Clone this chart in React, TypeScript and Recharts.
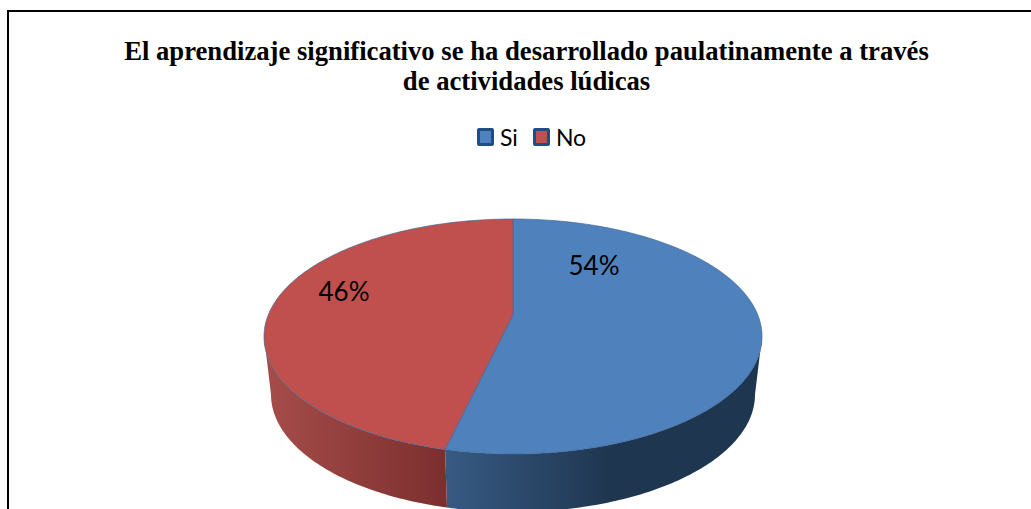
import { Legend, Pie, PieChart } from "recharts";

const categories = ["Si", "No"];
const percents = [54, 46];
const sliceColors = ["#4F81BD", "#C0504D"];
const titleLines = [
  "El aprendizaje significativo se ha desarrollado paulatinamente a través",
  "de actividades lúdicas",
];

const pieData = categories.map((name, i) => ({
  name,
  value: percents[i],
  fill: sliceColors[i],
}));

const WIDTH = 1031;
const HEIGHT = 509;

// Fake 3D: top face and the floor of the disc are two ellipses.
const CX = 513;
const CY = 336.5;
const RX = 249;
const RY = 117.5;
const FLOOR_RX = 242;
const DEPTH = 58;
// The slice vertex sits above the ellipse centre because of the perspective.
const APEX_LIFT = 21.5;
const WARP = 0.1;

// Excel's data labels sit by hand-placed spots, offsets from the pie centre.
const labelOffsets: Record<string, [number, number]> = {
  Si: [81, -72],
  No: [-169, -46],
};

const rad = (deg: number) => (deg * Math.PI) / 180;

// clockwise degrees from 12 o'clock -> param on the unit circle, pulled by perspective
function warpAngle(clock: number) {
  const dx = Math.sin(rad(clock));
  const dy = -Math.cos(rad(clock));
  const b = -WARP * dy;
  const t = -b + Math.sqrt(b * b - (WARP * WARP - 1));
  const ux = t * dx;
  const uy = -WARP + t * dy;
  const a = (Math.atan2(ux, -uy) * 180) / Math.PI;
  return a < 0 ? a + 360 : a;
}

const topPt = (a: number) =>
  `${CX + RX * Math.sin(rad(a))} ${CY - RY * Math.cos(rad(a))}`;
const floorPt = (a: number) =>
  `${CX + FLOOR_RX * Math.sin(rad(a))} ${CY + DEPTH - RY * Math.cos(rad(a))}`;

function sweep(from: number, to: number) {
  const out: number[] = [];
  for (let a = from; a < to; a += 1) out.push(a);
  out.push(to);
  return out;
}

function DiscSlice(props: any) {
  // recharts angles: counter-clockwise from 3 o'clock
  const from = warpAngle(90 - props.startAngle);
  const to = props.endAngle <= -270 ? 360 : warpAngle(90 - props.endAngle);
  const top = sweep(from, to);
  const face = `M${CX} ${CY - APEX_LIFT}L${top.map(topPt).join("L")}Z`;

  const wallFrom = Math.max(from, 90);
  const wallTo = Math.min(to, 270);
  const wall = sweep(wallFrom, wallTo);
  const side = `M${wall.map(topPt).join("L")}L${wall
    .slice()
    .reverse()
    .map(floorPt)
    .join("L")}Z`;

  return (
    <g>
      <path d={side} fill={`url(#wall-${props.name})`} />
      <path d={face} fill={props.fill} stroke="#3F6797" strokeWidth={0.7} />
    </g>
  );
}

function renderLabel(props: any) {
  const [dx, dy] = labelOffsets[props.name];
  return (
    <text
      x={CX + dx}
      y={CY + dy}
      textAnchor="middle"
      dominantBaseline="central"
      fontFamily="Lato, sans-serif"
      fontSize={26}
      fill="#000"
    >
      {`${props.value}%`}
    </text>
  );
}

function renderLegend() {
  return (
    <div
      style={{
        display: "flex",
        alignItems: "center",
        fontFamily: "Lato, sans-serif",
        fontSize: 23,
        color: "#000",
        lineHeight: "24px",
      }}
    >
      {pieData.map((d, i) => (
        <span
          key={d.name}
          style={{ display: "flex", alignItems: "center", marginLeft: i ? 15 : 0 }}
        >
          <span
            style={{
              display: "inline-block",
              boxSizing: "border-box",
              width: 17,
              height: 18,
              background: d.fill,
              border: "3px solid #1F4E85",
              borderRadius: 2,
              marginRight: 6,
            }}
          />
          {d.name}
        </span>
      ))}
    </div>
  );
}

export default function App() {
  return (
    <div
      style={{
        position: "absolute",
        left: 0,
        top: 0,
        width: WIDTH,
        height: HEIGHT,
        overflow: "hidden",
        background: "#fff",
      }}
    >
      <div
        style={{
          position: "absolute",
          left: 7,
          top: 10,
          width: WIDTH,
          height: HEIGHT,
          borderTop: "2px solid #000",
          borderLeft: "2px solid #000",
        }}
      />
      <div
        style={{
          position: "absolute",
          left: 0,
          width: 1053,
          top: 36,
          textAlign: "center",
          fontFamily: "'Liberation Serif', serif",
          fontWeight: 700,
          fontSize: 26.67,
          lineHeight: "30px",
          color: "#000",
        }}
      >
        {titleLines.map((line) => (
          <div key={line}>{line}</div>
        ))}
      </div>
      <PieChart
        width={WIDTH}
        height={HEIGHT}
        margin={{ top: 0, right: 0, bottom: 0, left: 0 }}
        style={{ position: "absolute", left: 0, top: 0 }}
      >
        <defs>
          <linearGradient id="wall-Si" gradientUnits="userSpaceOnUse" x1={445} x2={610} y1={0} y2={0}>
            <stop offset="0" stopColor="#375A83" />
            <stop offset="1" stopColor="#1F3650" />
          </linearGradient>
          <linearGradient id="wall-No" gradientUnits="userSpaceOnUse" x1={264} x2={445} y1={0} y2={0}>
            <stop offset="0" stopColor="#A64D4A" />
            <stop offset="1" stopColor="#7B2F2E" />
          </linearGradient>
        </defs>
        <Legend
          content={renderLegend}
          wrapperStyle={{ position: "absolute", left: 477, top: 125, width: "auto" }}
        />
        <Pie
          data={pieData}
          dataKey="value"
          nameKey="name"
          cx={CX}
          cy={CY}
          outerRadius={RX}
          startAngle={90}
          endAngle={-270}
          stroke="none"
          shape={DiscSlice}
          label={renderLabel}
          labelLine={false}
          isAnimationActive={false}
        />
      </PieChart>
    </div>
  );
}
